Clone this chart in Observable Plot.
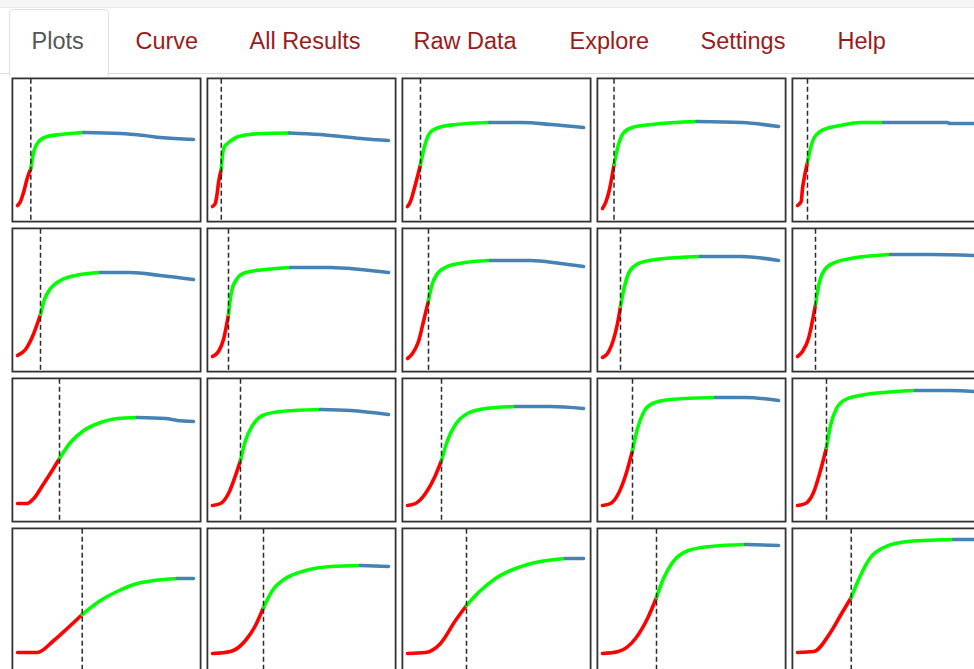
<!DOCTYPE html>
<html>
<head>
<meta charset="utf-8">
<script src="https://cdn.jsdelivr.net/npm/d3@7"></script>
<script src="https://cdn.jsdelivr.net/npm/@observablehq/plot@0.6"></script>
<style>
html, body { margin: 0; padding: 0; background: #fff; width: 974px; height: 669px; overflow: hidden; position: relative; }
#topstrip { position: absolute; left: 0; top: 0; width: 974px; height: 7px; background: #f5f5f5; border-bottom: 1px solid #e9e9e9; }
#navline { position: absolute; left: 0; top: 73px; width: 974px; height: 0; border-top: 1px solid #dddddd; }
#activeTab { position: absolute; left: 9px; top: 9px; width: 98px; height: 66px; border: 1px solid #dddddd; border-bottom: none; border-radius: 5px 5px 0 0; background: #fff; }
.tab { position: absolute; top: 29.6px; font-family: "Liberation Sans", Arial, sans-serif; font-size: 23.5px; line-height: 23.5px; color: #991c1c; white-space: nowrap; }
.tab.active { color: #555555; }
.panel { position: absolute; width: 190px; height: 145px; }
.panel svg { display: block; overflow: visible; max-width: none !important; width: 190px; height: 145px; }
</style>
</head>
<body>
<div id="topstrip"></div>
<div id="navline"></div>
<div id="activeTab"></div>
<div id="tabs"></div>
<div id="grid"></div>
<script>
// ---------- tab labels ----------
const tabLabels = ["Plots", "Curve", "All Results", "Raw Data", "Explore", "Settings", "Help"];
const activeTab = "Plots";

// ---------- growth curves (time in hours, OD) per well ----------
const rows = ["A", "B", "C", "D"];
const cols = [1, 2, 3, 4, 5];

const rowA_hours = [
  [0, 0.75, 1.58, 2.42, 3.33, 4.08, 5.33, 7.42, 10.75, 16.58, 25.75, 31.58, 35.75, 44],
  [0, 0.7, 1.13, 1.55, 2.2, 2.5, 3, 3.75, 5.88, 9.25, 12.5, 19.25, 26.75, 33.38, 38.38, 44],
  [0, 0.75, 1.5, 2.5, 3.25, 4.25, 5.5, 7.75, 12.25, 20.5, 28.5, 36, 44],
  [0, 0.88, 1.63, 2.38, 2.88, 3.88, 5.13, 7.38, 12.38, 23.63, 34.88, 44],
  [0, 0.93, 1.25, 1.75, 2.5, 3, 4.08, 6.58, 10.75, 15.75, 21.5, 29, 37.5, 38, 44]
];
const rowA_od = [
  [0.17, 0.21, 0.31, 0.44, 0.54, 0.71, 0.81, 0.86, 0.88, 0.90, 0.89, 0.87, 0.85, 0.83],
  [0.16, 0.19, 0.28, 0.41, 0.53, 0.68, 0.76, 0.79, 0.85, 0.88, 0.89, 0.895, 0.88, 0.855, 0.835, 0.82],
  [0.16, 0.21, 0.31, 0.46, 0.58, 0.76, 0.89, 0.95, 0.98, 1.00, 1.00, 0.98, 0.95],
  [0.14, 0.21, 0.31, 0.46, 0.58, 0.76, 0.89, 0.95, 0.98, 1.01, 1.00, 0.96],
  [0.17, 0.21, 0.34, 0.46, 0.60, 0.70, 0.84, 0.93, 0.97, 1.00, 1.00, 1.00, 1.00, 0.99, 0.99]
];
const rowA_lagEnd = [3.33, 2.2, 3.25, 2.88, 2.5];
const rowA_plateau = [16.58, 19.25, 20.5, 23.63, 21.5];

const rowB_hours = [
  [0, 2, 3.75, 5.75, 6.75, 8.25, 10.75, 14.5, 20.75, 28.25, 35.75, 44],
  [0, 1.5, 2.75, 4, 4.75, 6, 8.25, 13.25, 19.5, 29.5, 37, 44],
  [0, 1.25, 2.75, 4, 5.25, 6, 7.5, 10, 14.5, 20.75, 30.75, 38.25, 44],
  [0, 1.25, 2.75, 3.75, 4.5, 5.5, 6.75, 9, 13.25, 24.5, 34.5, 44],
  [0, 1.25, 2.75, 4.5, 5.25, 6.5, 8.75, 13.25, 23.25, 33.25, 44]
];
const rowB_od = [
  [0.17, 0.23, 0.36, 0.58, 0.73, 0.84, 0.92, 0.97, 1.00, 1.00, 0.97, 0.93],
  [0.16, 0.21, 0.33, 0.58, 0.81, 0.93, 1.00, 1.03, 1.05, 1.05, 1.03, 1.00],
  [0.14, 0.19, 0.31, 0.51, 0.72, 0.86, 0.99, 1.06, 1.10, 1.12, 1.12, 1.09, 1.06],
  [0.15, 0.19, 0.33, 0.49, 0.66, 0.86, 1.01, 1.09, 1.13, 1.16, 1.16, 1.12],
  [0.16, 0.21, 0.34, 0.68, 0.86, 1.01, 1.09, 1.14, 1.18, 1.18, 1.17]
];
const rowB_lagEnd = [5.75, 4, 5.25, 4.5, 4.5];
const rowB_plateau = [20.75, 19.5, 20.75, 24.5, 23.25];

const rowC_hours = [
  [0, 2.43, 4.08, 6.58, 8.68, 10.5, 13.25, 16.58, 20.75, 24.93, 29.93, 37, 39.93, 44],
  [0, 2, 4, 5.75, 7, 8.25, 10, 12.5, 17, 27, 34.5, 44],
  [0, 2, 4.5, 6.75, 8.5, 10, 12, 15, 19.5, 27, 35.75, 44],
  [0, 2, 4, 6, 7.5, 8.75, 10.25, 12.5, 17, 28.25, 35.75, 44],
  [0, 2, 4, 5.75, 7.25, 8.25, 9.75, 12, 17, 29.5, 38.25, 44]
];
const rowC_od = [
  [0.19, 0.19, 0.24, 0.39, 0.52, 0.64, 0.80, 0.92, 1.00, 1.04, 1.05, 1.04, 1.02, 1.01],
  [0.17, 0.19, 0.29, 0.47, 0.62, 0.82, 0.97, 1.07, 1.11, 1.13, 1.12, 1.08],
  [0.17, 0.19, 0.29, 0.45, 0.62, 0.82, 0.98, 1.09, 1.14, 1.16, 1.16, 1.14],
  [0.17, 0.19, 0.29, 0.50, 0.72, 0.94, 1.10, 1.19, 1.23, 1.25, 1.25, 1.22],
  [0.17, 0.19, 0.30, 0.52, 0.75, 0.97, 1.14, 1.23, 1.28, 1.32, 1.32, 1.31]
];
const rowC_lagEnd = [10.5, 7, 8.5, 7.5, 7.25];
const rowC_plateau = [29.93, 27, 27, 28.25, 29.5];

const rowD_hours = [
  [0, 4.93, 9.08, 12.43, 16.18, 20.75, 24.93, 29.08, 34.08, 39.93, 44],
  [0, 4.5, 8.25, 10.75, 12.75, 15, 18.25, 23.25, 29.5, 37, 44],
  [0, 4.5, 8.25, 12, 14.75, 17.75, 22, 27, 33.25, 39.5, 44],
  [0, 4, 8.25, 11.25, 13.5, 15.25, 17.5, 21.5, 27, 35.75, 44],
  [0, 4.08, 8.25, 11.18, 13.43, 15.75, 18.25, 21.58, 25.75, 31.58, 39.08, 44]
];
const rowD_od = [
  [0.20, 0.20, 0.32, 0.44, 0.58, 0.72, 0.81, 0.88, 0.92, 0.94, 0.94],
  [0.19, 0.21, 0.32, 0.47, 0.65, 0.82, 0.94, 1.02, 1.06, 1.07, 1.06],
  [0.19, 0.20, 0.29, 0.52, 0.67, 0.80, 0.94, 1.04, 1.11, 1.14, 1.14],
  [0.19, 0.21, 0.34, 0.54, 0.75, 0.94, 1.10, 1.22, 1.26, 1.28, 1.27],
  [0.20, 0.21, 0.40, 0.60, 0.75, 0.97, 1.15, 1.25, 1.30, 1.32, 1.33, 1.33]
];
const rowD_lagEnd = [16.18, 12.75, 14.75, 13.5, 13.43];
const rowD_plateau = [39.93, 37, 39.5, 35.75, 39.08];

// ---------- assemble ----------
const allHours = [rowA_hours, rowB_hours, rowC_hours, rowD_hours];
const allOD = [rowA_od, rowB_od, rowC_od, rowD_od];
const allLag = [rowA_lagEnd, rowB_lagEnd, rowC_lagEnd, rowD_lagEnd];
const allPlateau = [rowA_plateau, rowB_plateau, rowC_plateau, rowD_plateau];

// layout
const panelW = 190, panelH = 145, stepX = 195, stepY = 150, originX = 11, originY = 77;
const tabX = [31.5, 135.5, 249.5, 413.5, 569.5, 700.5, 837.5];
const phaseColor = {lag: "#ff0000", exp: "#00ff00", stat: "#4682b4"};

const tabsDiv = document.getElementById("tabs");
tabLabels.forEach((label, i) => {
  const el = document.createElement("div");
  el.className = "tab" + (label === activeTab ? " active" : "");
  el.style.left = tabX[i] + "px";
  el.textContent = label;
  tabsDiv.appendChild(el);
});

const grid = document.getElementById("grid");
rows.forEach((r, ri) => {
  cols.forEach((c, ci) => {
    const h = allHours[ri][ci], od = allOD[ri][ci];
    const v = allLag[ri][ci], p = allPlateau[ri][ci];
    const pts = h.map((t, i) => ({t, od: od[i]}));
    const lag = pts.filter(d => d.t <= v);
    const exp = pts.filter(d => d.t >= v && d.t <= p);
    const stat = pts.filter(d => d.t >= p);
    const lineOpts = (col) => ({x: "t", y: "od", stroke: col, strokeWidth: 3.6, curve: "monotone-x", strokeLinecap: "round"});
    const chart = Plot.plot({
      width: panelW,
      height: panelH,
      margin: 0,
      style: {maxWidth: "none"},
      x: {domain: [0, 44], insetLeft: 6, insetRight: 8, axis: null},
      y: {domain: [0, 1.45], axis: null},
      marks: [
        Plot.frame({stroke: "#333333", strokeWidth: 1.8, inset: 0.9}),
        Plot.line(lag, lineOpts(phaseColor.lag)),
        Plot.line(exp, lineOpts(phaseColor.exp)),
        Plot.line(stat, lineOpts(phaseColor.stat)),
        Plot.ruleX([v], {stroke: "#2a2a2a", strokeWidth: 1.5, strokeDasharray: "5,3", insetTop: 1.8, insetBottom: 1.8})
      ]
    });
    const wrap = document.createElement("div");
    wrap.className = "panel";
    wrap.title = r + c;
    wrap.style.left = (originX + ci * stepX) + "px";
    wrap.style.top = (originY + ri * stepY) + "px";
    wrap.appendChild(chart);
    grid.appendChild(wrap);
  });
});
</script>
</body>
</html>
